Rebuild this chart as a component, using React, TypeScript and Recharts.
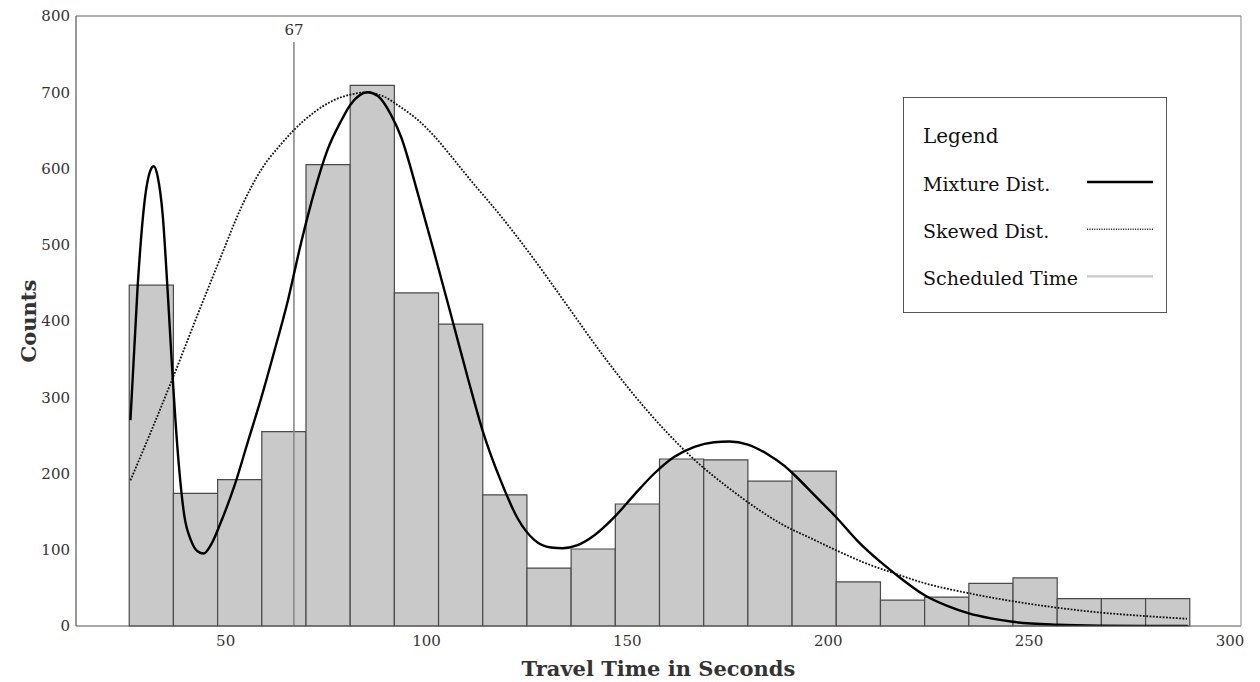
import React from 'react';
import {
  ComposedChart,
  XAxis,
  YAxis,
  Line,
  ReferenceArea,
  ReferenceLine,
  Legend,
  Label,
} from 'recharts';

// ---------- data ----------
const binEdges = [26, 37, 48, 59, 70, 81, 92, 103, 114, 125, 136, 147, 158, 169, 180, 191, 202, 213, 224, 235, 246, 257, 268, 279, 290];
const counts = [447, 174, 192, 255, 605, 709, 437, 396, 172, 76, 101, 160, 219, 218, 190, 203, 58, 34, 38, 56, 63, 36, 36, 36];

const mixtureX = [26.3, 28.1, 29.8, 31.4, 32.1, 33.1, 34.3, 35.6, 36.8, 38.1, 39.7, 41.4, 43.0, 44.5, 46.4, 48.8, 52.2, 55.5, 58.8, 62.1, 65.5, 68.8, 72.1, 75.4, 78.7, 81.1, 85.4, 87.9, 91.2, 93.7, 97.8, 101.9, 106.5, 110.3, 114.1, 118.6, 122.7, 126.8, 131.0, 133.9, 137.6, 141.8, 146.8, 151.7, 156.7, 161.7, 166.7, 171.6, 175.4, 180.0, 185.0, 189.1, 191.2, 196.5, 202.1, 207.4, 213.0, 216.5, 224.1, 229.8, 235.0, 240.5, 245.9, 257.0, 268.0, 289.5];
const mixtureY = [270, 446, 556, 599, 603, 589, 541, 436, 327, 227, 145, 112, 98, 95, 107, 136, 184, 241, 298, 360, 427, 503, 570, 625, 662, 684, 700, 695, 670, 641, 568, 490, 400, 325, 254, 189, 141, 113, 103, 102, 106, 119, 143, 172, 200, 222, 235, 241, 242, 238, 225, 210, 200, 172, 142, 111, 84, 69, 40, 26, 16.5, 10, 5.5, 1.7, 0.5, 0];

const skewedX = [26.3, 31.5, 37.2, 43.0, 48.8, 53.8, 58.8, 63.8, 67.1, 72.1, 77.1, 82.0, 85.0, 89.5, 93.7, 98.0, 102.0, 106.0, 110.3, 118.6, 126.9, 135.2, 143.5, 151.8, 160.0, 166.7, 175.0, 182.0, 188.3, 196.5, 202.1, 209.0, 216.5, 224.1, 235.0, 245.9, 257.0, 268.0, 279.0, 289.3];
const skewedY = [191, 256, 330, 408, 484, 548, 598, 632, 651, 674, 690, 698, 700, 694, 680, 663, 642, 617, 589, 537, 480, 419, 358, 302, 253, 218, 182, 155, 134, 113, 99, 83, 69, 56, 43, 32.5, 24, 17.5, 13, 9.5];

const xTicks = [50, 100, 150, 200, 250, 300];
const yTicks = [0, 100, 200, 300, 400, 500, 600, 700, 800];
const xDomain = [12.75, 302.75];
const yDomain = [0, 800];

const scheduledTime = 67;
const scheduledTop = 766;

const xTitle = 'Travel Time in Seconds';
const yTitle = 'Counts';
const legendTitle = 'Legend';
const mixtureName = 'Mixture Dist.';
const skewedName = 'Skewed Dist.';
const scheduledName = 'Scheduled Time';

// ---------- derived tables ----------
const mixtureData = mixtureX.map((x, i) => ({ x, y: mixtureY[i] }));
const skewedData = skewedX.map((x, i) => ({ x, y: skewedY[i] }));
const bins = counts.map((c, i) => ({ x1: binEdges[i], x2: binEdges[i + 1], c }));

const FONT = '"DejaVu Serif", serif';
const TEXT = '#333';

const legendRows = [
  { name: mixtureName, stroke: '#000', width: 2.6, dash: undefined as string | undefined },
  { name: skewedName, stroke: '#333', width: 1.4, dash: '1.2 1.2' },
  { name: scheduledName, stroke: '#c8c8c8', width: 2.2, dash: undefined as string | undefined },
];

function LegendBox() {
  return (
    <div
      style={{
        width: 264,
        height: 216,
        boxSizing: 'border-box',
        border: '1px solid #555',
        background: '#fff',
        fontFamily: FONT,
      }}
    >
      <svg width={262} height={214} style={{ display: 'block' }}>
        <text x={19} y={45} fontSize={20} fill="#111" fontFamily={FONT}>
          {legendTitle}
        </text>
        {legendRows.map((r, i) => (
          <g key={r.name}>
            <text x={19} y={93 + i * 47.2} fontSize={19} fill="#111" fontFamily={FONT}>
              {r.name}
            </text>
            <line
              x1={183}
              x2={249}
              y1={84 + i * 47.2}
              y2={84 + i * 47.2}
              stroke={r.stroke}
              strokeWidth={r.width}
              strokeDasharray={r.dash}
            />
          </g>
        ))}
      </svg>
    </div>
  );
}

export default function App() {
  return (
    <div style={{ position: 'absolute', left: 0, top: 0, width: 1260, height: 682, fontFamily: FONT, background: '#fff' }}>
      <ComposedChart width={1260} height={682} margin={{ top: 16, right: 19, bottom: 6, left: 16 }}>
        {/* bottom axis: line + labels */}
        <XAxis
          type="number"
          dataKey="x"
          domain={xDomain}
          allowDataOverflow
          ticks={xTicks}
          interval={0}
          height={50}
          tickLine={false}
          tickSize={0}
          tickMargin={9}
          axisLine={{ stroke: '#555', strokeWidth: 1.2 }}
          tick={{ fill: TEXT, fontSize: 15, fontFamily: FONT }}
        >
          <Label
            value={xTitle}
            position="center"
            dy={18}
            style={{ fontSize: 21, fontWeight: 'bold', fontFamily: FONT, fill: '#333' }}
          />
        </XAxis>
        {/* bottom axis: inward tick marks */}
        <XAxis
          xAxisId="bottomTicks"
          orientation="bottom"
          mirror
          type="number"
          domain={xDomain}
          allowDataOverflow
          ticks={xTicks}
          interval={0}
          height={30}
          tick={false}
          tickSize={10}
          axisLine={false}
          tickLine={{ stroke: '#555', strokeWidth: 1.2 }}
        />
        {/* top box edge */}
        <XAxis
          xAxisId="top"
          orientation="top"
          mirror
          type="number"
          domain={xDomain}
          allowDataOverflow
          ticks={xTicks}
          interval={0}
          height={30}
          tick={false}
          tickSize={10}
          axisLine={{ stroke: '#666', strokeWidth: 1.2 }}
          tickLine={{ stroke: '#666', strokeWidth: 1.2 }}
        />
        {/* left axis: line + labels */}
        <YAxis
          type="number"
          domain={yDomain}
          allowDataOverflow
          ticks={yTicks}
          interval={0}
          width={60}
          tickLine={false}
          tickSize={0}
          tickMargin={6}
          axisLine={{ stroke: '#555', strokeWidth: 1.2 }}
          tick={{ fill: TEXT, fontSize: 15, fontFamily: FONT }}
        >
          <Label
            value={yTitle}
            position="center"
            angle={-90}
            dx={-17}
            style={{ fontSize: 21, fontWeight: 'bold', fontFamily: FONT, fill: '#333' }}
          />
        </YAxis>
        {/* left axis: inward tick marks */}
        <YAxis
          yAxisId="leftTicks"
          orientation="left"
          mirror
          type="number"
          domain={yDomain}
          allowDataOverflow
          ticks={yTicks}
          interval={0}
          width={30}
          tick={false}
          tickSize={10}
          axisLine={false}
          tickLine={{ stroke: '#555', strokeWidth: 1.2 }}
        />
        {/* right box edge */}
        <YAxis
          yAxisId="right"
          orientation="right"
          mirror
          type="number"
          domain={yDomain}
          allowDataOverflow
          ticks={yTicks}
          interval={0}
          width={30}
          tick={false}
          tickSize={10}
          axisLine={{ stroke: '#999', strokeWidth: 1.2 }}
          tickLine={{ stroke: '#999', strokeWidth: 1.2 }}
        />

        {bins.map((b) => (
          <ReferenceArea
            key={b.x1}
            x1={b.x1}
            x2={b.x2}
            y1={0}
            y2={b.c}
            fill="#c9c9c9"
            fillOpacity={1}
            stroke="#4a4a4a"
            strokeWidth={1.2}
            ifOverflow="visible"
          />
        ))}

        <ReferenceLine
          segment={[
            { x: scheduledTime, y: 0 },
            { x: scheduledTime, y: scheduledTop },
          ]}
          stroke="#8a8a8a"
          strokeWidth={1.6}
          ifOverflow="visible"
        >
          <Label value={String(scheduledTime)} position="top" offset={7} fill="#333" fontSize={15} fontFamily={FONT} />
        </ReferenceLine>

        <Line
          data={skewedData}
          dataKey="y"
          name={skewedName}
          type="monotone"
          stroke="#111"
          strokeWidth={1.8}
          strokeDasharray="1.8 1.5"
          dot={false}
          activeDot={false}
          isAnimationActive={false}
        />
        <Line
          data={mixtureData}
          dataKey="y"
          name={mixtureName}
          type="monotone"
          stroke="#000"
          strokeWidth={2.4}
          dot={false}
          activeDot={false}
          isAnimationActive={false}
        />

        <Legend
          layout="vertical"
          align="center"
          verticalAlign="middle"
          content={<LegendBox />}
          wrapperStyle={{ position: 'absolute', left: 903, top: 97, width: 264, height: 216 }}
        />
      </ComposedChart>
    </div>
  );
}
